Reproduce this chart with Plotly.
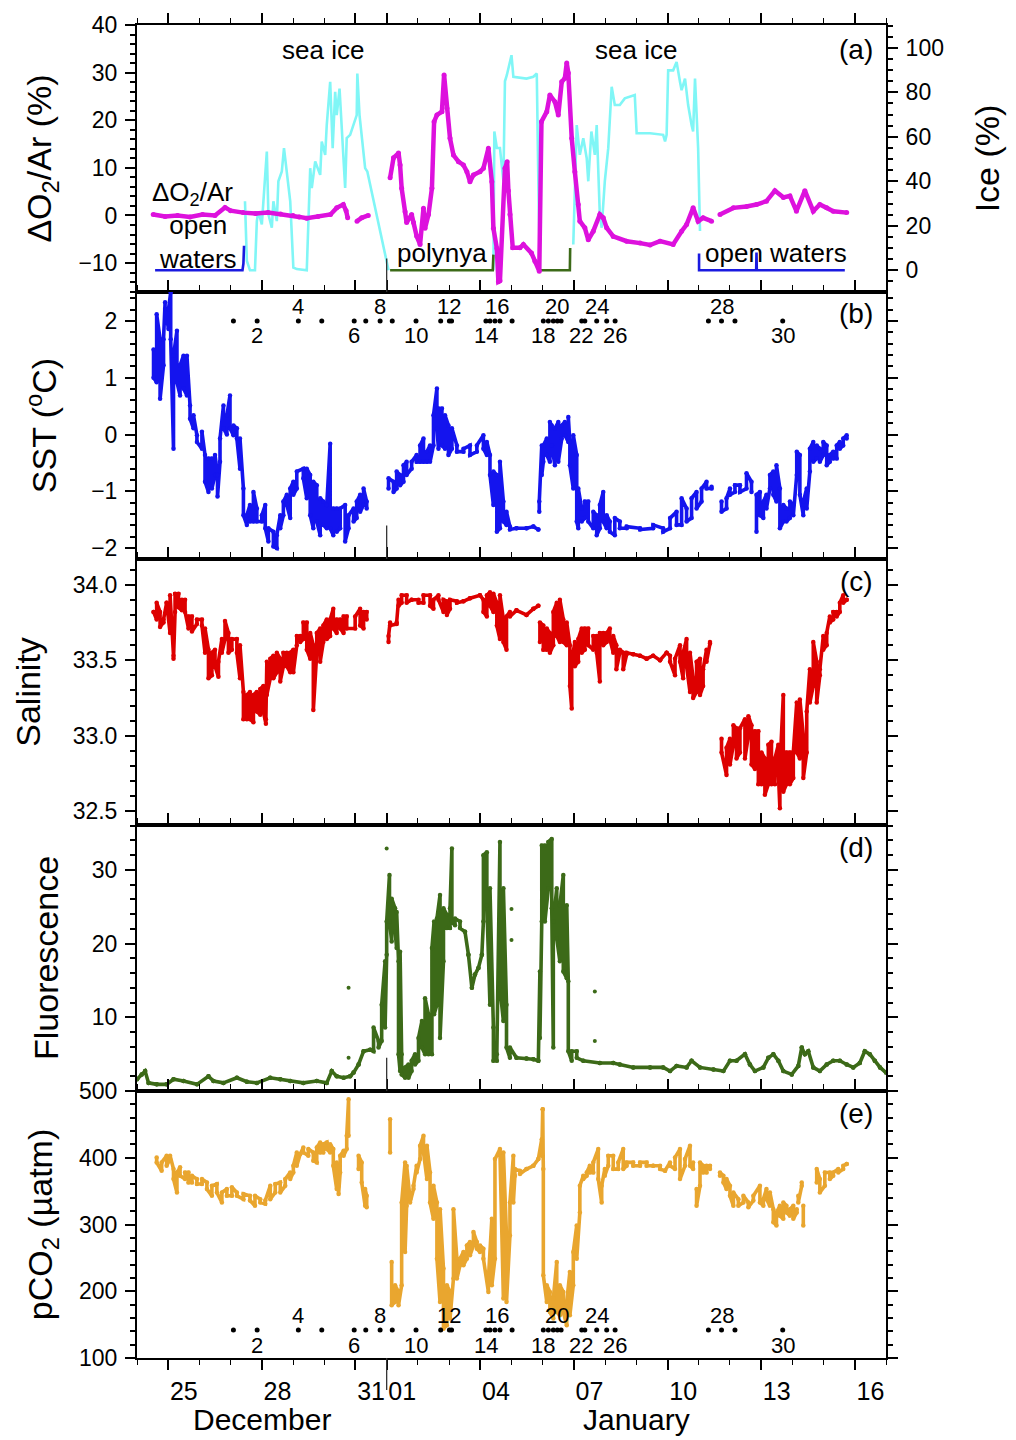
import plotly.graph_objects as go

# ---------------- DATA (x = day; Dec d -> d, Jan d -> 31 + d) ----------------
# (a) dO2/Ar (%)
o2_day = [24.52, 24.9, 25.3, 25.7, 26.1, 26.5, 26.82, 27.0, 27.4, 27.8, 28.2, 28.6, 29.0, 29.2, 29.44, 29.8, 30.2, 30.4, 30.61, 30.7, 30.75, None,
          31.05, 31.2, 31.41, None,
          32.11, 32.22, 32.38, 32.43, 32.48, 32.59, 32.64, 32.80, 32.86, 32.96,
          33.07, 33.18, 33.23, 33.34, 33.45, 33.52, 33.61, 33.77, 33.84, 33.93,
          34.03, 34.14, 34.30, 34.46, 34.57, 34.67, 34.78, 34.99, 35.10, 35.26,
          35.37, 35.42, 35.53, 35.58, 35.63, 35.79, 35.86, 35.90, 35.95, 36.04,
          36.27, 36.38, 36.64, 36.75, 36.89, 36.96, 37.13, 37.23, 37.39, 37.50,
          37.61, 37.71, 37.77, 37.82, 37.93, 38.03, 38.14, 38.19, 38.35, 38.46,
          38.62, 38.83, 38.94, 39.05, 39.26, 39.69, 40.12, 40.44, 40.76, 41.18,
          41.45, 41.61, 41.82, 41.98, 42.14, 42.41, None,
          42.68, 43.11, 43.53, 43.85, 44.17, 44.44, 44.71, 44.92, 45.13, 45.40, 45.67, 45.88, 46.10, 46.31, 46.74]
o2_val = [0.2, -0.2, 0.0, -0.3, 0.2, 0.0, 1.7, 1.0, 0.6, 0.4, 0.6, 0.3, 0.0, -0.3, -0.6, -0.2, 0.2, 1.6, 2.3, 1.0, -0.5, None,
          -1.2, -0.5, 0.0, None,
          7.9, 12.1, 13.1, 10.6, 5.7, 0.8, -1.5, 0.2, -1.5, -4.3,
          -6.1, 1.5, -2.7, 0.2, 5.7, 19.7, 21.1, 21.8, 29.5, 22.5,
          16.2, 12.7, 11.3, 10.6, 9.2, 7.1, 8.5, 9.2, 9.9, 14.1,
          7.1, -2.7, -6.9, -13.9, -13.7, 9.9, 11.3, 5.2, 0.2, -6.8,
          -6.8, -6.1, -7.9, -9.6, -11.7, 19.7, 21.8, 25.3, 23.9, 21.1,
          28.1, 28.8, 32.0, 29.9, 16.2, 9.2, 2.3, -1.2, -2.6, -5.1,
          -3.3, 0.2, -0.5, -2.6, -4.4, -5.4, -5.8, -6.2, -5.4, -6.1,
          -3.3, -1.9, 1.6, -1.2, -0.5, -1.2, None,
          0.2, 1.6, 1.9, 2.3, 3.0, 5.2, 3.8, 4.1, 0.9, 5.2, 0.9, 2.3, 1.6, 0.9, 0.6]

# (a) sea-ice cover (%)
ice_day = [27.46, 27.52, 27.62, 27.78, 27.84, 27.89, 28.0, 28.05, 28.16, 28.21,
           28.32, 28.37, 28.48, 28.53, 28.64, 28.71, 28.80, 28.91, 29.01, 29.12,
           29.44, 29.49, 29.55, 29.60, 29.71, 29.87, 29.92, 30.03, 30.08, 30.19,
           30.27, 30.35, 30.40, 30.49, 30.53, 30.62, 30.67, 30.72, 30.83, 31.04,
           31.06, 31.13, 31.26, 31.31, 31.38, 32.06, None,
           35.42, 35.45, 35.53, 35.63, 35.74, 35.79, 35.85, 36.0, 36.06, 36.27, 36.48, 36.70, 36.81, 36.86, 36.91, None,
           37.98, 38.09, 38.19, 38.30, 38.41, 38.46, 38.56, 38.67, 38.73, 38.83,
           38.89, 38.99, 39.10, 39.21, 39.31, 39.47, 39.63, 39.95, 40.01, 40.44,
           40.86, 40.92, 40.97, 41.02, 41.18, 41.29, 41.40, 41.45, 41.56, 41.66,
           41.77, 41.82, 41.88, 41.93, 41.98, 42.04]
ice_val = [31.0, 4.2, 0, 0, 22.1, 26.5, 20.6, 29.5, 53.4, 25.1,
           19.1, 31.0, 22.1, 40.0, 44.4, 54.9, 42.9, 31.0, 1.2, 0.5,
           0, 25.1, 45.9, 37.0, 48.9, 42.9, 57.9, 51.9, 65.3, 84.7,
           54.9, 80.2, 69.8, 81.7, 71.3, 51.9, 37.0, 59.4, 60.9, 69.8,
           88.5, 69.8, 51.9, 45.9, 44.4, 0, None,
           0, 62.4, 55, 55, 40, 85, 87.7, 96.7, 87.0, 86.5, 86.2, 87.0, 88.5, 40, 0, None,
           11.6, 65.3, 51.9, 59.4, 50.4, 40.0, 62.4, 51.9, 65.3, 25.1,
           19.1, 40.0, 54.9, 82.5, 74.3, 74.3, 77.3, 78.8, 61.6, 61.6,
           60.9, 57.9, 60.9, 89.9, 89.9, 93.7, 84.7, 81.0, 86.2, 74.3,
           65.3, 62.4, 86.2, 69.8, 54.9, 17.6]

# (a) open-water / polynya ice-free segments (ice %)
ow1_day = [24.58, 27.38, 27.41, 27.43]
ow1_val = [0, 0, 3, 11]
poly1_day = [32.11, 35.40, 35.42]
poly1_val = [0, 0, 7]
poly2_day = [36.91, 37.87, 37.88]
poly2_val = [0, 0, 10]
ow2_day = [42.01, 42.01, 43.84, 43.85, 43.86, 46.68]
ow2_val = [7.5, 0, 0, 8, 0, 0]

# (b) SST (degC): upper / lower edge of the point cloud
sst_day = [24.53, 24.63, 24.74, 24.85, 24.90, 25.01, 25.08, 25.17, 25.28, 25.38,
           25.49, 25.60, 25.70, 25.81, 25.92, 26.08, 26.18, 26.29, 26.40, 26.50,
           26.58, 26.66, 26.77, 26.88, 26.98, 27.09, 27.20, 27.30, 27.41, 27.52,
           27.62, 27.73, 27.84, 28.00, 28.11, 28.21, 28.37, 28.48, 28.59, 28.69,
           28.80, 28.91, 29.01, 29.12, 29.33, 29.44, 29.55, 29.65, 29.76, 29.87,
           29.97, 30.08, 30.19, 30.29, 30.40, 30.51, 30.67, 30.78, 30.94, 31.04,
           31.15, 31.26, 31.36, None,
           32.06, 32.22, 32.32, 32.43, 32.54, 32.64, 32.80, 32.96, 33.07, 33.18,
           33.29, 33.39, 33.50, 33.61, 33.66, 33.77, 33.87, 33.98, 34.09, 34.25,
           34.46, 34.67, 34.89, 35.10, 35.21, 35.31, 35.42, 35.53, 35.63, 35.74,
           35.84, 35.95, 36.16, 36.48, 36.70, 36.86, None,
           36.89, 36.97, 37.02, 37.13, 37.23, 37.29, 37.39, 37.50, 37.61, 37.71,
           37.82, 37.87, 37.98, 38.09, 38.14, 38.25, 38.35, 38.46, 38.62, 38.73,
           38.83, 38.94, 39.05, 39.15, 39.31, 39.47, 39.69, 40.12, 40.54, 40.86,
           41.08, 41.29, 41.45, 41.61, 41.77, 41.93, 42.09, 42.25, 42.41, None,
           42.73, 42.89, 43.00, 43.16, 43.32, 43.53, 43.69, None,
           43.85, 43.96, 44.07, 44.17, 44.28, 44.39, 44.49, 44.60, 44.71, 44.81,
           44.92, 45.03, 45.14, 45.24, 45.35, 45.46, 45.56, 45.67, 45.78, 45.88,
           45.99, 46.10, 46.20, 46.31, 46.42, 46.52, 46.63, 46.74]
sst_hi = [1.5, 2.12, 1.68, 1.68, 2.33, 2.21, 2.50, 1.39, 1.83, 1.22,
          1.39, 1.39, 0.51, 0.34, -0.01, 0.05, -0.36, -0.42, -0.42, -0.36,
          -0.71, -0.07, 0.51, 0.34, 0.69, 0.16, 0.11, -0.07, -0.95, -1.42,
          -1.24, -1.01, -1.30, -1.42, -1.24, -1.65, -1.71, -1.77, -1.42, -1.18,
          -1.06, -0.95, -0.83, -0.65, -0.60, -0.60, -0.71, -0.83, -0.89, -1.12,
          -1.18, -1.24, -0.16, -1.30, -1.30, -1.30, -1.24, -1.42, -1.30, -1.18,
          -1.06, -0.95, -1.18, None,
          -0.77, -0.83, -0.65, -0.71, -0.54, -0.48, -0.48, -0.36, -0.19, -0.07,
          -0.30, -0.19, 0.34, 0.81, 0.46, 0.46, 0.34, 0.16, 0.11, -0.19,
          -0.25, -0.19, -0.19, -0.01, -0.13, -0.36, -0.65, -0.71, -0.48, -1.18,
          -1.36, -1.62, -1.65, -1.65, -1.62, -1.67, None,
          -1.18, -0.19, -0.19, -0.07, 0.22, 0.16, 0.11, 0.22, 0.16, 0.22,
          0.31, -0.13, -0.01, -0.36, -0.95, -1.30, -1.18, -1.18, -1.36, -1.42,
          -1.24, -1.01, -1.42, -1.53, -1.47, -1.53, -1.62, -1.65, -1.59, -1.65,
          -1.47, -1.36, -1.12, -1.30, -1.12, -1.01, -0.95, -0.83, -0.92, None,
          -1.18, -1.12, -0.95, -0.89, -0.89, -0.68, -0.83, None,
          -1.06, -1.01, -1.18, -1.06, -0.71, -0.65, -0.54, -0.95, -1.24, -1.30,
          -1.18, -1.24, -0.30, -0.36, -1.18, -0.95, -0.25, -0.13, -0.19, -0.25,
          -0.13, -0.19, -0.36, -0.30, -0.19, -0.13, -0.07, -0.01]
sst_lo = [1.0, 0.92, 0.63, 1.22, 2.21, 1.86, 1.68, -0.25, 0.92, 0.69,
          0.81, 0.69, 0.28, 0.11, -0.13, -0.25, -0.83, -1.01, -0.95, -0.71,
          -1.09, -0.48, 0.11, 0.00, 0.11, -0.01, -0.07, -0.60, -1.42, -1.59,
          -1.53, -1.53, -1.53, -1.53, -1.65, -1.88, -1.97, -2.00, -1.65, -1.42,
          -1.24, -1.47, -1.06, -0.95, -0.77, -1.12, -1.42, -1.65, -1.53, -1.77,
          -1.59, -1.65, -1.65, -1.77, -1.71, -1.65, -1.88, -1.65, -1.53, -1.47,
          -1.36, -1.24, -1.30, None,
          -0.95, -1.01, -0.95, -0.89, -0.83, -0.71, -0.60, -0.48, -0.48, -0.48,
          -0.48, -0.48, -0.19, 0.11, -0.25, -0.19, -0.25, -0.36, -0.25, -0.30,
          -0.30, -0.36, -0.30, -0.25, -0.36, -0.71, -1.24, -1.71, -1.65, -1.53,
          -1.59, -1.67, -1.65, -1.65, -1.62, -1.67, None,
          -1.36, -0.71, -0.48, -0.36, -0.48, -0.19, -0.54, -0.48, -0.07, -0.01,
          -0.13, -0.54, -0.95, -1.53, -1.65, -1.53, -1.47, -1.53, -1.65, -1.77,
          -1.65, -1.53, -1.65, -1.71, -1.77, -1.65, -1.65, -1.67, -1.65, -1.71,
          -1.65, -1.59, -1.59, -1.53, -1.47, -1.30, -1.18, -0.95, -0.95, None,
          -1.36, -1.30, -1.06, -1.01, -1.01, -0.95, -1.01, None,
          -1.71, -1.42, -1.47, -1.30, -0.95, -1.06, -1.18, -1.65, -1.53, -1.53,
          -1.47, -1.42, -0.71, -1.06, -1.42, -1.30, -0.65, -0.48, -0.42, -0.48,
          -0.36, -0.54, -0.48, -0.42, -0.42, -0.25, -0.19, -0.07]

# (c) Salinity
sal_day = [24.53, 24.63, 24.74, 24.85, 24.95, 25.06, 25.17, 25.22, 25.33, 25.44,
           25.54, 25.65, 25.76, 25.92, 26.08, 26.18, 26.29, 26.40, 26.50, 26.61,
           26.72, 26.82, 26.93, 27.04, 27.20, 27.30, 27.41, 27.52, 27.62, 27.73,
           27.84, 27.95, 28.05, 28.13, 28.16, 28.27, 28.37, 28.48, 28.59, 28.69,
           28.80, 28.91, 29.01, 29.12, 29.23, 29.33, 29.44, 29.55, 29.65, 29.76,
           29.87, 29.97, 30.08, 30.19, 30.29, 30.40, 30.51, 30.62, 30.72, 30.99,
           31.15, 31.26, 31.36, None,
           32.06, 32.11, 32.32, 32.38, 32.48, 32.64, 32.80, 33.02, 33.18, 33.39,
           33.50, 33.66, 33.82, 33.93, 34.03, 34.25, 34.46, 34.67, 34.99, 35.10,
           35.21, 35.31, 35.42, 35.53, 35.63, 35.74, 35.84, 35.95, 36.16, 36.48,
           36.70, 36.86, None,
           36.91, 37.02, 37.13, 37.23, 37.34, 37.45, 37.55, 37.66, 37.77, 37.87,
           37.93, 38.03, 38.14, 38.25, 38.35, 38.46, 38.62, 38.73, 38.83, 38.94,
           39.05, 39.15, 39.26, 39.36, 39.47, 39.58, 39.69, 39.90, 40.12, 40.33,
           40.54, 40.76, 40.97, 41.08, 41.24, 41.40, 41.50, 41.61, 41.72, 41.82,
           41.93, 42.04, 42.14, 42.25, 42.36, None,
           42.73, 42.89, 43.00, 43.11, 43.21, 43.32, 43.48, 43.59, 43.69, 43.80,
           43.91, 44.01, 44.12, 44.23, 44.33, 44.44, 44.55, 44.60, 44.71, 44.81,
           44.92, 45.03, 45.14, 45.24, 45.35, 45.46, 45.56, 45.67, 45.78, 45.88,
           45.99, 46.10, 46.20, 46.31, 46.42, 46.52, 46.63, 46.74]
sal_hi = [33.82, 33.88, 33.82, 33.77, 33.88, 33.93, 33.53, 33.94, 33.94, 33.90,
          33.90, 33.79, 33.79, 33.77, 33.77, 33.71, 33.57, 33.55, 33.57, 33.49,
          33.64, 33.76, 33.68, 33.64, 33.64, 33.60, 33.29, 33.27, 33.29, 33.27,
          33.29, 33.31, 33.33, 33.11, 33.49, 33.51, 33.53, 33.55, 33.51, 33.55,
          33.55, 33.55, 33.57, 33.66, 33.66, 33.75, 33.75, 33.68, 33.60, 33.68,
          33.71, 33.73, 33.77, 33.77, 33.84, 33.77, 33.77, 33.79, 33.79, 33.79,
          33.84, 33.82, 33.82, None,
          33.66, 33.75, 33.75, 33.90, 33.93, 33.93, 33.90, 33.90, 33.93, 33.93,
          33.90, 33.93, 33.90, 33.89, 33.90, 33.89, 33.89, 33.91, 33.93, 33.90,
          33.93, 33.95, 33.94, 33.88, 33.93, 33.77, 33.79, 33.82, 33.83, 33.80,
          33.84, 33.86, None,
          33.75, 33.73, 33.71, 33.68, 33.82, 33.88, 33.90, 33.77, 33.75, 33.60,
          33.49, 33.62, 33.64, 33.71, 33.71, 33.71, 33.66, 33.66, 33.68, 33.68,
          33.68, 33.71, 33.66, 33.60, 33.57, 33.55, 33.55, 33.54, 33.53, 33.51,
          33.53, 33.50, 33.55, 33.53, 33.51, 33.60, 33.55, 33.64, 33.55, 33.38,
          33.49, 33.51, 33.44, 33.57, 33.62, None,
          32.98, 32.92, 32.98, 33.07, 33.05, 33.05, 33.11, 33.13, 33.07, 33.03,
          33.03, 32.89, 32.85, 32.94, 32.96, 32.85, 32.94, 32.78, 33.27, 32.89,
          32.89, 32.89, 33.22, 33.24, 33.00, 33.16, 33.44, 33.62, 33.49, 33.44,
          33.66, 33.68, 33.79, 33.82, 33.82, 33.88, 33.93, 33.90]
sal_lo = [33.82, 33.77, 33.72, 33.75, 33.88, 33.68, 33.51, 33.82, 33.85, 33.83,
          33.82, 33.71, 33.69, 33.74, 33.73, 33.55, 33.38, 33.40, 33.46, 33.39,
          33.55, 33.64, 33.55, 33.57, 33.55, 33.38, 33.11, 33.11, 33.11, 33.09,
          33.16, 33.14, 33.16, 33.08, 33.27, 33.38, 33.38, 33.42, 33.36, 33.46,
          33.46, 33.42, 33.42, 33.60, 33.62, 33.64, 33.57, 33.51, 33.17, 33.55,
          33.49, 33.62, 33.64, 33.66, 33.71, 33.68, 33.71, 33.68, 33.71, 33.71,
          33.73, 33.71, 33.77, None,
          33.62, 33.73, 33.74, 33.86, 33.88, 33.88, 33.90, 33.88, 33.88, 33.86,
          33.84, 33.90, 33.82, 33.80, 33.84, 33.88, 33.89, 33.91, 33.93, 33.82,
          33.79, 33.86, 33.82, 33.73, 33.64, 33.62, 33.57, 33.79, 33.83, 33.80,
          33.84, 33.86, None,
          33.62, 33.57, 33.57, 33.55, 33.60, 33.66, 33.62, 33.62, 33.60, 33.33,
          33.18, 33.46, 33.49, 33.55, 33.57, 33.60, 33.57, 33.55, 33.36, 33.60,
          33.62, 33.64, 33.55, 33.44, 33.55, 33.44, 33.54, 33.54, 33.53, 33.51,
          33.53, 33.50, 33.55, 33.49, 33.40, 33.49, 33.38, 33.46, 33.29, 33.25,
          33.29, 33.27, 33.33, 33.49, 33.61, None,
          32.89, 32.74, 32.81, 32.94, 32.85, 32.89, 32.85, 33.00, 32.81, 32.78,
          32.68, 32.68, 32.61, 32.68, 32.68, 32.68, 32.76, 32.52, 32.63, 32.68,
          32.68, 32.72, 32.89, 32.85, 32.72, 32.89, 33.22, 33.33, 33.22, 33.40,
          33.57, 33.60, 33.75, 33.77, 33.79, 33.82, 33.88, 33.90]

# (d) Fluorescence
flu_day = [24.00, 24.15, 24.26, 24.37, 24.63, 24.95, 25.17, 25.49, 25.92, 26.29,
           26.45, 26.77, 27.20, 27.52, 27.84, 28.27, 28.59, 28.91, 29.33, 29.76,
           30.08, 30.24, 30.40, 30.62, 30.83, 30.94, 31.10, 31.26, 31.47, 31.58,
           31.74, 31.84, 31.95, 32.00, 32.09, 32.16, 32.27, 32.32, 32.38, 32.43,
           32.48, 32.59, 32.70, 32.80, 32.91, 33.02, 33.13, 33.23, 33.34, 33.45,
           33.52, 33.61, 33.71, 33.82, 33.93, 34.03, 34.09, 34.19, 34.35, 34.51,
           34.62, 34.73, 34.83, 34.94, 35.05, 35.10, 35.21, 35.31, 35.42, 35.53,
           35.63, 35.74, 35.84, 35.95, 36.16, 36.48, 36.70, 36.86, 36.91, 36.97,
           37.07, 37.18, 37.29, 37.34, 37.45, 37.55, 37.66, 37.77, 37.82, 37.93,
           38.09, 38.30, 38.83, 39.26, 39.47, 39.90, 40.44, 40.86, 41.08, 41.29,
           41.61, 41.77, 42.04, 42.47, 42.79, 43.00, 43.21, 43.48, 43.64, 43.80,
           44.07, 44.23, 44.39, 44.55, 44.71, 44.98, 45.19, 45.30, 45.40, 45.51,
           45.67, 45.88, 46.10, 46.31, 46.52, 46.74, 46.95, 47.16, 47.32, 47.48,
           47.64, 47.81, 48.00]
flu_hi = [1.6, 2.25, 2.7, 1.1, 0.9, 0.9, 1.6, 1.35, 0.9, 2.0,
          1.35, 1.1, 1.8, 1.26, 1.1, 1.8, 1.6, 1.35, 1.1, 1.35,
          1.1, 2.7, 2.0, 1.8, 2.0, 2.5, 3.6, 5.4, 5.6, 8.6,
          6.8, 11.7, 17.6, 23.0, 29.3, 26.1, 24.8, 24.3, 17.6, 18.9,
          5.0, 3.2, 3.6, 4.1, 5.0, 7.2, 9.5, 12.6, 10.4, 19.4,
          23.0, 23.4, 26.6, 24.8, 23.9, 24.8, 32.9, 23.4, 23.0, 21.6,
          18.5, 14.0, 15.8, 16.7, 18.5, 32.0, 32.4, 27.5, 8.6, 5.0,
          33.8, 27.5, 11.7, 5.9, 4.5, 4.4, 4.3, 4.1, 16.2, 33.3,
          33.3, 33.8, 34.2, 23.0, 27.5, 25.2, 29.3, 25.2, 14.9, 5.4,
          5.4, 4.1, 3.8, 3.8, 3.6, 3.2, 3.2, 3.2, 2.7, 3.4,
          3.2, 4.1, 3.2, 2.9, 2.7, 4.1, 4.1, 5.0, 3.6, 2.7,
          3.2, 4.5, 5.0, 4.1, 2.7, 2.25, 3.4, 5.9, 5.0, 5.4,
          3.2, 2.7, 3.6, 4.1, 4.1, 3.6, 3.2, 3.8, 5.4, 5.0,
          4.1, 3.2, 2.5]
flu_lo = [1.6, 2.25, 2.7, 1.1, 0.9, 0.9, 1.6, 1.35, 0.9, 2.0,
          1.35, 1.1, 1.8, 1.26, 1.1, 1.8, 1.6, 1.35, 1.1, 1.35,
          1.1, 2.7, 2.0, 1.8, 2.0, 2.5, 3.6, 5.4, 5.6, 5.4,
          5.9, 6.8, 8.6, 18.5, 23.0, 20.3, 21.6, 19.4, 5.0, 2.7,
          2.25, 1.8, 1.8, 2.7, 3.6, 4.1, 5.9, 5.0, 5.0, 5.0,
          10.4, 11.7, 7.2, 17.6, 22.1, 22.1, 23.0, 22.5, 22.1, 21.6,
          18.5, 14.0, 15.8, 16.7, 18.5, 23.0, 25.2, 11.7, 4.1, 4.1,
          14.0, 9.5, 5.9, 4.5, 4.5, 4.4, 4.3, 4.1, 7.2, 23.0,
          23.0, 27.5, 24.8, 5.9, 20.7, 17.6, 16.2, 15.3, 5.4, 4.1,
          4.5, 4.1, 3.8, 3.8, 3.6, 3.2, 3.2, 3.2, 2.7, 3.4,
          3.2, 4.1, 3.2, 2.9, 2.7, 4.1, 4.1, 5.0, 3.6, 2.7,
          3.2, 4.5, 5.0, 4.1, 2.7, 2.25, 3.4, 5.9, 5.0, 5.4,
          3.2, 2.7, 3.6, 4.1, 4.1, 3.6, 3.2, 3.8, 5.4, 5.0,
          4.1, 3.2, 2.5]
flu_out_day = [30.78, 30.78, 32.0, 36.0, 36.0, 38.67, 38.67]
flu_out_val = [14.0, 4.5, 32.9, 24.7, 20.5, 13.5, 6.8]

# (e) pCO2 (uatm)
pco2_day = [24.63, 24.79, 24.95, 25.06, 25.17, 25.28, 25.38, 25.54, 25.65, 25.76,
            25.92, 26.08, 26.24, 26.40, 26.56, 26.72, 26.88, 27.04, 27.20, 27.41,
            27.62, 27.78, 27.95, 28.11, 28.27, 28.43, 28.59, 28.75, 28.91, 29.01,
            29.12, 29.23, 29.33, 29.49, 29.65, 29.76, 29.87, 29.97, 30.08, 30.19,
            30.29, 30.40, 30.46, 30.51, 30.62, 30.72, 30.78, None,
            31.10, 31.20, 31.31, 31.36, None,
            32.11, None,
            32.16, 32.27, 32.38, 32.48, 32.59, 32.64, 32.75, 32.86, 32.96, 33.07,
            33.18, 33.29, 33.39, 33.50, 33.61, 33.71, 33.82, 33.93, 34.03, 34.14,
            34.25, 34.35, 34.46, 34.57, 34.67, 34.78, 34.89, 34.99, 35.10, 35.26,
            35.37, 35.47, 35.63, 35.74, 35.84, 35.95, 36.06, 36.11, 36.27, 36.48,
            36.70, 36.86, 36.97, 37.00, 37.02, 37.13, 37.23, 37.34, 37.45, 37.55,
            37.66, 37.77, 37.87, 37.98, 38.09, 38.19, 38.30, 38.41, 38.51, 38.62,
            38.78, 38.89, 38.99, 39.10, 39.26, 39.42, 39.58, 39.69, 39.90, 40.12,
            40.33, 40.54, 40.76, 40.92, 41.08, 41.24, 41.40, 41.56, 41.72, 41.82, None,
            41.93, 42.04, 42.14, 42.25, 42.36, None,
            42.68, 42.79, 42.89, 43.00, 43.11, 43.27, 43.43, 43.59, 43.75, 43.96,
            44.07, 44.17, 44.28, 44.39, 44.49, 44.60, 44.71, 44.81, 44.92, 45.03,
            45.14, None,
            45.19, 45.30, None,
            45.35, None,
            45.78, 45.88, 46.04, 46.20, 46.31, 46.47, 46.63, 46.74]
pco2_hi = [400.5, 393.0, 403.0, 403.0, 383.0, 378.0, 385.6, 378.0, 378.0, 373.0,
           368.0, 368.0, 363.0, 358.0, 360.7, 348.0, 353.0, 355.8, 348.0, 345.8,
           343.0, 343.0, 338.0, 335.9, 358.0, 360.7, 363.0, 368.0, 378.0, 388.0,
           408.0, 405.5, 415.5, 413.0, 408.0, 415.5, 423.0, 420.4, 423.0, 420.4,
           413.0, 393.0, 358.0, 403.0, 410.5, 433.0, 487.6, None,
           403.0, 393.0, 353.0, 343.0, None,
           457.8, None,
           243.8, 209.0, 199.0, 333.0, 393.0, 388.0, 338.0, 358.0, 388.0, 418.0,
           433.0, 418.0, 378.0, 358.0, 333.0, 323.0, 233.9, 209.0, 199.0, 323.0,
           248.8, 248.8, 258.8, 268.7, 273.7, 288.6, 273.7, 268.7, 263.7, 219.0,
           308.5, 398.0, 413.0, 408.0, 283.6, 333.0, 403.0, 383.0, 380.6, 383.0,
           388.0, 398.0, 427.9, 472.7, 383.0, 209.0, 199.0, 189.0, 243.8, 209.0,
           199.0, 184.0, 228.9, 258.8, 298.5, 358.0, 373.0, 378.0, 388.0, 393.0,
           413.0, 358.0, 383.0, 403.0, 403.0, 393.0, 413.0, 393.0, 393.0, 393.0,
           393.0, 388.0, 388.0, 380.6, 393.0, 400.5, 413.0, 398.0, 418.0, 393.0, None,
           353.0, 393.0, 388.0, 388.0, 388.0, None,
           378.0, 373.0, 368.0, 358.0, 348.0, 338.0, 343.0, 333.0, 343.0, 358.0,
           338.0, 353.0, 348.0, 323.0, 318.0, 328.0, 333.0, 328.0, 323.0, 328.0,
           323.0, None,
           343.0, 363.0, None,
           328.0, None,
           383.0, 368.0, 378.0, 378.0, 378.0, 383.0, 388.0, 390.6]
pco2_lo = [393.0, 380.6, 388.0, 398.0, 368.0, 348.0, 373.0, 368.0, 363.0, 363.0,
           360.7, 360.7, 353.0, 343.0, 348.0, 333.0, 343.0, 343.0, 343.0, 338.0,
           335.9, 328.0, 333.0, 330.9, 338.0, 348.0, 348.0, 358.0, 368.0, 378.0,
           388.0, 405.5, 408.0, 403.0, 395.6, 393.0, 408.0, 408.0, 413.0, 408.0,
           388.0, 353.0, 345.8, 378.0, 403.0, 413.0, 433.0, None,
           383.0, 363.0, 328.0, 325.9, None,
           408.0, None,
           179.0, 184.0, 179.0, 209.0, 258.8, 328.0, 333.0, 353.0, 378.0, 398.0,
           408.0, 368.0, 333.0, 308.5, 248.8, 184.0, 144.0, 149.0, 159.0, 219.0,
           219.0, 238.9, 238.9, 248.8, 253.8, 268.7, 263.7, 258.8, 248.8, 199.0,
           209.0, 248.8, 408.0, 189.0, 184.0, 283.6, 333.0, 373.0, 375.7, 383.0,
           388.0, 398.0, 403.0, 472.7, 223.9, 184.0, 169.0, 159.0, 169.0, 164.0,
           169.0, 149.0, 164.0, 209.0, 248.8, 318.0, 368.0, 373.0, 378.0, 378.0,
           368.0, 333.0, 373.0, 388.0, 383.0, 383.0, 383.0, 388.0, 388.0, 388.0,
           388.0, 388.0, 383.0, 380.6, 388.0, 383.0, 368.0, 388.0, 388.0, 383.0, None,
           328.0, 358.0, 378.0, 378.0, 383.0, None,
           373.0, 363.0, 353.0, 343.0, 328.0, 328.0, 333.0, 325.9, 335.9, 333.0,
           328.0, 338.0, 328.0, 303.5, 298.5, 313.0, 308.5, 318.0, 313.0, 308.5,
           318.0, None,
           333.0, 358.0, None,
           298.5, None,
           363.0, 348.0, 358.0, 368.0, 373.0, 378.0, 383.0, 390.6]

# stations (dots) and their numbers
st_day = [27.09, 27.85, 29.17, 29.92, 30.96, 31.33, 31.79, 32.18, 32.94, 33.73,
          34.01, 34.08, 35.18, 35.31, 35.47, 35.63, 36.02, 37.02, 37.18, 37.34,
          37.47, 37.59, 38.25, 38.35, 38.73, 39.05, 39.32, 42.31, 42.73, 43.16, 44.69]
st_lab = ["2", "4", "6", "8", "10", "12", "14", "16", "18", "20", "22", "24", "26", "28", "30"]
st_lab_day = [27.84, 29.16, 30.95, 31.79, 32.94, 34.0, 35.18, 35.55, 37.01, 37.46,
              38.23, 38.74, 39.32, 42.74, 44.70]

# x-axis: day ticks, 3-day major ticks, labels centred in their day
major_ticks = [25, 28, 31, 32, 35, 38, 41, 44, 47]
xlab_pos = [25.5, 28.5, 31.5, 32.5, 35.5, 38.5, 41.5, 44.5, 47.5]
xlab_txt = ["25", "28", "31", "01", "04", "07", "10", "13", "16"]
month_pos = [28.0, 40.0]
month_txt = ["December", "January"]
year_boundary = 32

# ---------------- FIGURE ----------------
FONT = "Liberation Sans, Arial, Helvetica, sans-serif"
for nm, a, b in [("o2", o2_day, o2_val), ("ice", ice_day, ice_val), ("sst", sst_day, sst_hi),
                 ("sst2", sst_day, sst_lo), ("sal", sal_day, sal_hi), ("sal2", sal_day, sal_lo),
                 ("flu", flu_day, flu_hi), ("flu2", flu_day, flu_lo), ("pco2", pco2_day, pco2_hi),
                 ("pco22", pco2_day, pco2_lo)]:
    assert len(a) == len(b), (nm, len(a), len(b))


def band(days, hi, lo):
    xs, ys = [], []
    flip = False
    for d, h, l in zip(days, hi, lo):
        if d is None:
            xs.append(None); ys.append(None)
            continue
        pair = (l, h) if flip else (h, l)
        xs += [d, d]
        ys += list(pair)
        flip = not flip
    return xs, ys


fig = go.Figure()

C_MAG = "#DD11DD"
C_CYAN = "#80F6F6"
C_BLUE = "#1414EE"
C_RED = "#DD0000"
C_GREEN = "#3C6A18"
C_ORANGE = "#E9A62F"
C_OWBLUE = "#1A1AE0"
LW = 3.6
MS = 4.5

# panel (a): ice on base axis 'y' (right), dO2/Ar on overlay 'y6' (left)
fig.add_trace(go.Scatter(x=ice_day, y=ice_val, mode="lines", line=dict(color=C_CYAN, width=2.6),
                         xaxis="x", yaxis="y", showlegend=False))
for dd, vv, cc in [(ow1_day, ow1_val, C_OWBLUE), (ow2_day, ow2_val, C_OWBLUE),
                   (poly1_day, poly1_val, C_GREEN), (poly2_day, poly2_val, C_GREEN)]:
    fig.add_trace(go.Scatter(x=dd, y=vv, mode="lines", line=dict(color=cc, width=2.6),
                             xaxis="x", yaxis="y", showlegend=False))
fig.add_trace(go.Scatter(x=o2_day, y=o2_val, mode="lines+markers", line=dict(color=C_MAG, width=4.5),
                         marker=dict(size=5, color=C_MAG), xaxis="x", yaxis="y6", showlegend=False))

# panel (b)
bx, by = band(sst_day, sst_hi, sst_lo)
fig.add_trace(go.Scatter(x=bx, y=by, mode="lines+markers", line=dict(color=C_BLUE, width=LW),
                         marker=dict(size=MS, color=C_BLUE), xaxis="x2", yaxis="y2", showlegend=False))
fig.add_trace(go.Scatter(x=st_day, y=[2.0] * len(st_day), mode="markers", marker=dict(size=5, color="black"),
                         xaxis="x2", yaxis="y2", showlegend=False))

# panel (c)
bx, by = band(sal_day, sal_hi, sal_lo)
fig.add_trace(go.Scatter(x=bx, y=by, mode="lines+markers", line=dict(color=C_RED, width=LW),
                         marker=dict(size=MS, color=C_RED), xaxis="x3", yaxis="y3", showlegend=False))

# panel (d)
bx, by = band(flu_day, flu_hi, flu_lo)
fig.add_trace(go.Scatter(x=bx, y=by, mode="lines+markers", line=dict(color=C_GREEN, width=LW),
                         marker=dict(size=MS, color=C_GREEN), xaxis="x4", yaxis="y4", showlegend=False))
fig.add_trace(go.Scatter(x=flu_out_day, y=flu_out_val, mode="markers", marker=dict(size=4, color=C_GREEN),
                         xaxis="x4", yaxis="y4", showlegend=False))

# panel (e)
bx, by = band(pco2_day, pco2_hi, pco2_lo)
fig.add_trace(go.Scatter(x=bx, y=by, mode="lines+markers", line=dict(color=C_ORANGE, width=LW),
                         marker=dict(size=MS, color=C_ORANGE), xaxis="x5", yaxis="y5", showlegend=False))
fig.add_trace(go.Scatter(x=st_day, y=[141.8] * len(st_day), mode="markers", marker=dict(size=5, color="black"),
                         xaxis="x5", yaxis="y5", showlegend=False))
# carrier for the label axis
fig.add_trace(go.Scatter(x=[None], y=[None], mode="markers", xaxis="x6", yaxis="y5", showlegend=False))

# ---------------- axes ----------------
doms = {1: [0.7997, 1.0], 2: [0.5994, 0.7997], 3: [0.3999, 0.5994], 4: [0.2003, 0.3999], 5: [0.0, 0.2003]}
TICKF = dict(family=FONT, size=23, color="black")
TITLEF = dict(family=FONT, size=34, color="black")

xbase = dict(range=[24, 48], domain=[0, 1], tickmode="array", tickvals=major_ticks,
             showticklabels=False, ticks="outside", ticklen=10, tickwidth=1.5,
             tickcolor="black", showline=True, linecolor="black", linewidth=2,
             showgrid=False, zeroline=False,
             minor=dict(tickmode="linear", tick0=0, dtick=1, ticks="outside", ticklen=5,
                        tickwidth=1.2, tickcolor="black", showgrid=False))
for i in range(1, 6):
    key = "xaxis" if i == 1 else f"xaxis{i}"
    ax = dict(xbase)
    ax["anchor"] = "y" if i == 1 else f"y{i}"
    if i < 5:
        ax["side"] = "top"
        ax["mirror"] = True
    else:
        ax["side"] = "bottom"
        ax["mirror"] = "ticks"
    fig.update_layout(**{key: ax})

fig.update_layout(xaxis6=dict(overlaying="x5", anchor="y5", side="bottom", range=[24, 48],
                              tickmode="array", tickvals=xlab_pos, ticktext=xlab_txt, ticks="",
                              showline=False, showgrid=False, zeroline=False,
                              tickfont=dict(family=FONT, size=25, color="black"),
                              ticklabelstandoff=16))

ybase = dict(ticks="outside", ticklen=10, tickwidth=1.5, tickcolor="black", showline=True,
             linecolor="black", linewidth=2, showgrid=False, zeroline=False, tickfont=TICKF,
             ticklabelstandoff=3)

# (a) ice (base, right) and dO2/Ar (overlay, left)
fig.update_layout(yaxis=dict(ybase, domain=doms[1], anchor="x", side="right", range=[-9.8, 110.3],
                             tickmode="array", tickvals=[0, 20, 40, 60, 80, 100],
                             minor=dict(tickmode="linear", tick0=0, dtick=5, ticks="outside", ticklen=5,
                                        tickcolor="black"),
                             title=dict(text="Ice (%)", font=TITLEF, standoff=32)))
fig.update_layout(yaxis6=dict(ybase, overlaying="y", anchor="x", side="left", range=[-16.07, 40],
                              tickmode="array", tickvals=[-10, 0, 10, 20, 30, 40],
                              minor=dict(tickmode="linear", tick0=0, dtick=2, ticks="outside", ticklen=5,
                                         tickcolor="black"),
                              title=dict(text="ΔO<sub>2</sub>/Ar (%)", font=TITLEF, standoff=16)))
fig.update_layout(yaxis2=dict(ybase, domain=doms[2], anchor="x2", range=[-2.19, 2.51], mirror="ticks",
                              tickmode="array", tickvals=[-2, -1, 0, 1, 2],
                              minor=dict(tickmode="linear", tick0=0, dtick=0.2, ticks="outside", ticklen=5,
                                         tickcolor="black"),
                              title=dict(text="SST (<sup>o</sup>C)", font=TITLEF, standoff=24)))
fig.update_layout(yaxis3=dict(ybase, domain=doms[3], anchor="x3", range=[32.41, 34.17], mirror="ticks",
                              tickmode="array", tickvals=[32.5, 33.0, 33.5, 34.0],
                              ticktext=["32.5", "33.0", "33.5", "34.0"],
                              minor=dict(tickmode="linear", tick0=0, dtick=0.1, ticks="outside", ticklen=5,
                                         tickcolor="black"),
                              title=dict(text="Salinity", font=TITLEF, standoff=22)))
fig.update_layout(yaxis4=dict(ybase, domain=doms[4], anchor="x4", range=[0, 36.1], mirror="ticks",
                              tickmode="array", tickvals=[10, 20, 30],
                              minor=dict(tickmode="linear", tick0=0, dtick=2, ticks="outside", ticklen=5,
                                         tickcolor="black"),
                              title=dict(text="Fluorescence", font=TITLEF, standoff=23)))
fig.update_layout(yaxis5=dict(ybase, domain=doms[5], anchor="x5", range=[100, 500], mirror="ticks",
                              tickmode="array", tickvals=[100, 200, 300, 400, 500],
                              minor=dict(tickmode="linear", tick0=0, dtick=20, ticks="outside", ticklen=5,
                                         tickcolor="black"),
                              title=dict(text="pCO<sub>2</sub> (µatm)", font=TITLEF, standoff=16)))

# ---------------- annotations ----------------
ann = []
letters = [("(a)", "y", 0.91), ("(b)", "y2", 0.918), ("(c)", "y3", 0.914), ("(d)", "y4", 0.914), ("(e)", "y5", 0.914)]
for txt, yr, yy in letters:
    xr = "x" if yr == "y" else "x" + yr[1:]
    ann.append(dict(text=txt, x=0.985, xref=f"{xr} domain", y=yy, yref=f"{yr} domain",
                    xanchor="right", yanchor="middle", showarrow=False,
                    font=dict(family=FONT, size=28, color="black")))

TF = dict(family=FONT, size=26, color="black")
for txt, xx, yy in [("sea ice", 29.96, 34.7), ("sea ice", 39.99, 34.7),
                    ("ΔO<sub>2</sub>/Ar", 25.79, 4.6), ("open<br>waters", 25.95, -5.6),
                    ("polynya", 33.77, -7.9), ("open waters", 44.47, -7.9)]:
    ann.append(dict(text=txt, x=xx, y=yy, xref="x", yref="y6", showarrow=False, font=TF,
                    xanchor="center", yanchor="middle"))

SF = dict(family=FONT, size=22, color="black")
for lab, d in zip(st_lab, st_lab_day):
    above = int(lab) % 4 == 0
    ann.append(dict(text=lab, x=d, y=2.25 if above else 1.74, xref="x2", yref="y2", showarrow=False,
                    font=SF, xanchor="center", yanchor="middle"))
    ann.append(dict(text=lab, x=d, y=163 if above else 119, xref="x5", yref="y5", showarrow=False,
                    font=SF, xanchor="center", yanchor="middle"))

for txt, xx in zip(month_txt, month_pos):
    ann.append(dict(text=txt, x=xx, xref="x5", y=-0.046, yref="paper", showarrow=False,
                    font=dict(family=FONT, size=30, color="black"), xanchor="center", yanchor="middle"))

fig.update_layout(annotations=ann)

# year-boundary marks
shapes = []
for xr, yr in [("x", "y"), ("x2", "y2"), ("x4", "y4")]:
    shapes.append(dict(type="line", xref=xr, yref=f"{yr} domain", x0=year_boundary, x1=year_boundary,
                       y0=0, y1=0.125, line=dict(color="#333333", width=1.3)))
shapes.append(dict(type="line", xref="x5", yref="y5 domain", x0=year_boundary, x1=year_boundary,
                   y0=-0.12, y1=0, line=dict(color="#333333", width=1.3)))
fig.update_layout(shapes=shapes)

fig.update_layout(width=1016, height=1440, margin=dict(l=137, r=130, t=20, b=82),
                  paper_bgcolor="white", plot_bgcolor="white", showlegend=False,
                  font=dict(family=FONT, color="black"))

fig.write_html("out.html", config={"displayModeBar": False},
               post_script="document.body.style.margin='0px';document.body.style.padding='0px';")
